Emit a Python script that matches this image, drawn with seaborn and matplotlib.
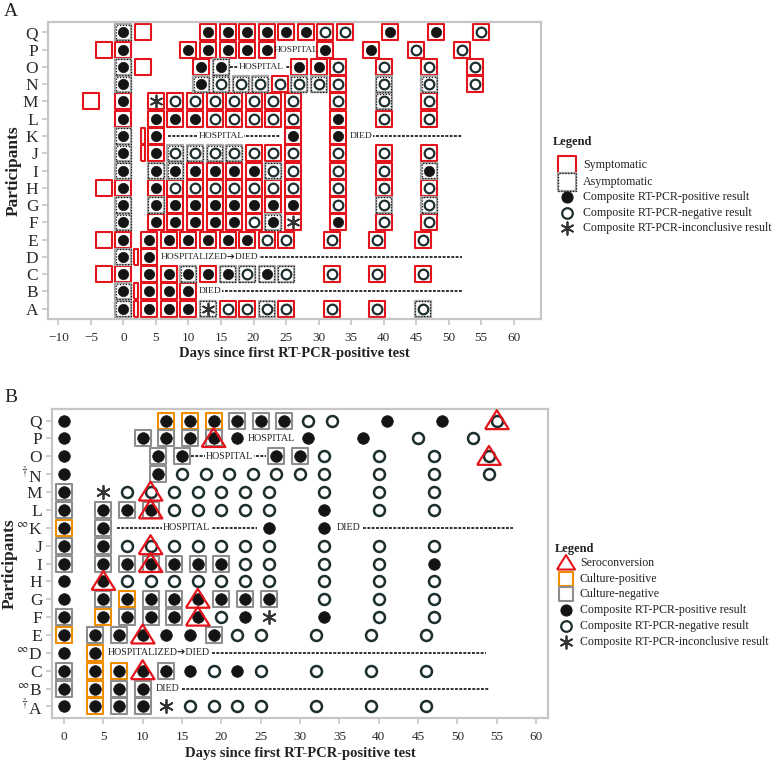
import numpy as np
import pandas as pd
import matplotlib
matplotlib.use("Agg")
import matplotlib.pyplot as plt
import seaborn as sns

# ---------------- data ----------------
participants = list("ABCDEFGHIJKLMNOPQ")

test_days = {
    "A": [0, 4, 7, 10, 13, 16, 19, 22, 25, 32, 39, 46],
    "B": [0, 4, 7, 10],
    "C": [0, 4, 7, 10, 13, 16, 19, 22, 25, 32, 39, 46],
    "D": [0, 4],
    "E": [0, 4, 7, 10, 13, 16, 19, 22, 25, 32, 39, 46],
    "F": [0, 5, 8, 11, 14, 17, 20, 23, 26, 33, 40, 47],
    "G": [0, 5, 8, 11, 14, 17, 20, 23, 26, 33, 40, 47],
    "H": [0, 5, 8, 11, 14, 17, 20, 23, 26, 33, 40, 47],
    "I": [0, 5, 8, 11, 14, 17, 20, 23, 26, 33, 40, 47],
    "J": [0, 5, 8, 11, 14, 17, 20, 23, 26, 33, 40, 47],
    "K": [0, 5, 26, 33],
    "L": [0, 5, 8, 11, 14, 17, 20, 23, 26, 33, 40, 47],
    "M": [0, 5, 8, 11, 14, 17, 20, 23, 26, 33, 40, 47],
    "N": [0, 12, 15, 18, 21, 24, 27, 30, 33, 40, 47, 54],
    "O": [0, 12, 15, 27, 30, 33, 40, 47, 54],
    "P": [0, 10, 13, 16, 19, 22, 31, 38, 45, 52],
    "Q": [0, 13, 16, 19, 22, 25, 28, 31, 34, 41, 48, 55],
}
# P = positive, N = negative, I = inconclusive
pcr_result = {
    "A": "PPPPINNNNNNN", "B": "PPPP", "C": "PPPPPPNPNNNN", "D": "PP",
    "E": "PPPPPPPNNNNN", "F": "PPPPPPNPIPNN", "G": "PPPPPPPPPNNN",
    "H": "PPNNNNNNNNNN", "I": "PPPPPPPNNNNP", "J": "PPNNNNNNNNNN",
    "K": "PPPP", "L": "PPPPNNNNNPNN", "M": "PINNNNNNNNNN",
    "N": "PPNNNNNNNNNN", "O": "PPPPPNNNN", "P": "PPPPPPPPNN",
    "Q": "PPPPPPPNNPPN",
}
# S = symptomatic, A = asymptomatic (panel A)
symptom_status = {
    "A": "ASSSASSASSSA", "B": "ASSS", "C": "SSSASAAAASSS", "D": "AS",
    "E": "SSSSSSSSSSSS", "F": "ASSSSSSASSSS", "G": "AASSSSSSSSAA",
    "H": "SSSSSSSSSSSS", "I": "AAASSSSASSSA", "J": "ASAAAASSSSSS",
    "K": "ASSS", "L": "SSSSSSSSSSSS", "M": "SSSSSSSSSSAS",
    "N": "AAAAASAASAAS", "O": "ASASSSSSS", "P": "SSSSSSSSSS",
    "Q": "ASSSSSSSSSSS",
}
# symptomatic days without a test
symptom_only_days = {"C": [-3], "E": [-3], "H": [-3], "M": [-5], "O": [3], "P": [-3], "Q": [3]}
symptom_onset_short = {"A": [2], "B": [2], "D": [2], "J": [3], "K": [3]}

# O = culture-positive, G = culture-negative, - = no culture (panel B)
culture = {
    "A": "-OGG--------", "B": "GOGG", "C": "GOO-G-------", "D": "-O",
    "E": "OGG---G-----", "F": "GOGGG-------", "G": "-GOGG-GGG---",
    "H": "------------", "I": "GGGGGGG-----", "J": "GG----------",
    "K": "OG--", "L": "GGGG--------", "M": "G-----------",
    "N": "-G----------", "O": "-GGGG----", "P": "-GGGG-----",
    "Q": "-OOOGGG-----",
}
seroconversion_day = {"C": 10, "E": 10, "F": 17, "G": 17, "H": 5, "I": 11,
                      "J": 11, "L": 11, "M": 11, "O": 54, "P": 19, "Q": 55}
label_marks_B = {"A": "\\dagger", "B": "\\infty", "D": "\\infty", "K": "\\infty", "N": "\\dagger"}

# clinical events: (participant, text, align, text_day, line_start, line_end)
events_A = [
    ("P", "HOSPITAL", "center", 26.5, None, None),
    ("O", "HOSPITAL", "center", 21.2, 16.4, 25.8),
    ("K", "HOSPITAL", "center", 15.0, 6.9, 24.0),
    ("K", "DIED", "left", 34.8, 34.8, 52.0),
    ("D", "HOSPITALIZED\u2794DIED", "left", 5.7, 5.7, 52.0),
    ("B", "DIED", "left", 11.6, 11.6, 52.0),
]
events_B = [
    ("P", "HOSPITAL", "center", 26.3, None, None),
    ("O", "HOSPITAL", "center", 21.0, 16.2, 25.7),
    ("K", "HOSPITAL", "center", 15.6, 6.7, 24.5),
    ("K", "DIED", "left", 34.7, 34.7, 57.0),
    ("D", "HOSPITALIZED\u2794DIED", "left", 5.6, 5.6, 53.6),
    ("B", "DIED", "left", 11.7, 11.7, 54.0),
]

# ---------------- tables ----------------
rows = []
for p in participants:
    d, r, s, c = test_days[p], pcr_result[p], symptom_status[p], culture[p]
    assert len(d) == len(r) == len(s) == len(c), p
    for di, ri, si, ci in zip(d, r, s, c):
        rows.append(dict(pid=p, y=participants.index(p), day=di, result=ri, sym=si, cult=ci))
tests = pd.DataFrame(rows)
sym_only = pd.DataFrame([dict(y=participants.index(p), day=d) for p, v in symptom_only_days.items() for d in v])
sym_short = pd.DataFrame([dict(y=participants.index(p), day=d) for p, v in symptom_onset_short.items() for d in v])
sero = pd.DataFrame([dict(y=participants.index(p), day=d) for p, d in seroconversion_day.items()])

# ---------------- style ----------------
sns.set_theme(style="white")
SERIF = ["Liberation Serif", "DejaVu Serif"]
plt.rcParams["font.family"] = SERIF
plt.rcParams["mathtext.fontset"] = "stix"

RED = "#e3141c"
ORANGE = "#f08c00"
GRAY = "#8e8e8e"
INK = "#141414"
OPEN_EDGE = "#1d2e2e"
SPINE = "#c6c6c6"

W, H = 782, 762
fig = plt.figure(figsize=(W / 100, H / 100), dpi=100)
axA = fig.add_axes([48 / W, 1 - 319 / H, (541 - 48) / W, (319 - 22) / H])
axB = fig.add_axes([52 / W, 1 - 718 / H, (548 - 52) / W, (718 - 409) / H])

narrow_rect = [(-0.28, -1), (0.28, -1), (0.28, 1), (-0.28, 1), (-0.28, -1)]
asterisk = (6, 2, 0)
tri = [(-1, -0.72), (1, -0.72), (0, 0.88), (-1, -0.72)]


def sc(ax, data, **kw):
    sns.scatterplot(data=data, x="day", y="y", ax=ax, legend=False, **kw)


def draw_circles(ax, df, s_fill, s_open, lw_open, s_ast):
    sc(ax, df[df.result == "P"], marker="o", s=s_fill, color=INK, edgecolor=INK, linewidth=0.5, zorder=5)
    sc(ax, df[df.result == "N"], marker="o", s=s_open, color=OPEN_EDGE, facecolor="white",
       edgecolor=OPEN_EDGE, linewidth=lw_open, zorder=5)
    sc(ax, df[df.result == "I"], marker=asterisk, s=s_ast, color="#333333", linewidth=1.3, zorder=5)


def draw_events(ax, events, fs):
    for p, txt, ha, xt, x0, x1 in events:
        yy = participants.index(p)
        box = None
        if x0 is not None:
            ax.plot([x0, x1], [yy, yy], color="#222222", lw=1.3, linestyle=(0, (1.6, 0.8)), zorder=3)
            box = dict(facecolor="white", edgecolor="none", pad=0.6)
        ax.text(xt, yy, txt, ha=ha, va="center", fontsize=fs, color="#222222",
                family=["Liberation Serif", "DejaVu Sans"], zorder=7, bbox=box)


def style_axes(ax, xlim, ylim, xticks, ylab_x, xlab_y):
    ax.set_xlim(*xlim)
    ax.set_ylim(*ylim)
    ax.set_xticks(xticks)
    ax.set_yticks(range(len(participants)))
    for sp in ax.spines.values():
        sp.set_color(SPINE)
        sp.set_linewidth(1.6)
    ax.tick_params(axis="both", which="both", direction="out", length=4, width=1.2,
                   color=SPINE, labelcolor="#2a2a2a", left=True, bottom=True)
    ax.tick_params(axis="x", labelsize=9.5, pad=5)
    ax.tick_params(axis="y", labelsize=12.5, pad=3)
    ax.set_xlabel("Days since first RT-PCR-positive test", fontsize=10.5, fontweight="bold",
                  color="#222222")
    ax.set_ylabel("Participants", fontsize=12.5, fontweight="bold", color="#222222")
    ax.yaxis.set_label_coords(ylab_x, 0.5)
    ax.xaxis.set_label_coords(0.5, xlab_y)


# ---------------- panel A ----------------
SBOX = 120
sc(axA, tests[tests.sym == "S"], marker="s", s=SBOX, color=RED, facecolor="white", edgecolor=RED,
   linewidth=1.5, zorder=2)
sc(axA, tests[tests.sym == "A"], marker="s", s=SBOX, color="#a8a8a8", facecolor="white",
   edgecolor="#a8a8a8", linewidth=1.6, zorder=2)
sc(axA, tests[tests.sym == "A"], marker="s", s=SBOX, color=INK, facecolor="none", edgecolor=INK,
   linewidth=0.9, linestyle=(0, (1, 1.3)), zorder=3)
sc(axA, sym_only, marker="s", s=SBOX, color=RED, facecolor="white", edgecolor=RED, linewidth=1.5, zorder=2)
sc(axA, sym_short, marker=narrow_rect, s=SBOX, color=RED, facecolor="white", edgecolor=RED,
   linewidth=1.5, zorder=2)
draw_circles(axA, tests, 55, 48, 1.6, 75)
draw_events(axA, events_A, 6.8)
style_axes(axA, (-11.6, 64.2), (-0.6, 16.6), range(-10, 61, 5),
           (22 - 48) / 493, (319 - 347) / 297)
axA.set_yticklabels(participants)

# ---------------- panel B ----------------
CBOX = 125
sc(axB, tests[tests.cult == "O"], marker="s", s=CBOX, color=ORANGE, facecolor="white",
   edgecolor=ORANGE, linewidth=1.5, zorder=2)
sc(axB, tests[tests.cult == "G"], marker="s", s=CBOX, color=GRAY, facecolor="white",
   edgecolor=GRAY, linewidth=1.5, zorder=2)
draw_circles(axB, tests, 70, 62, 1.8, 90)
sc(axB, sero, marker=tri, s=290, color=RED, facecolor="none", edgecolor=RED, linewidth=1.6, zorder=6)
draw_events(axB, events_B, 7.2)
style_axes(axB, (-1.52, 61.5), (-0.65, 16.65), range(0, 61, 5),
           (18 - 52) / 496, (718 - 747) / 309)
axB.set_yticklabels([(r"$^{%s}$" % label_marks_B[p] + p) if p in label_marks_B else p
                     for p in participants])

# panel letters
fig.text(4 / W, 1 - 12 / H, "A", fontsize=14, va="center", ha="left", color="#222222")
fig.text(4 / W, 1 - 398 / H, "B", fontsize=14, va="center", ha="left", color="#222222")

# ---------------- legends (drawn in a pixel-space overlay) ----------------
axL = fig.add_axes([0, 0, 1, 1], facecolor="none")
axL.set_xlim(0, W)
axL.set_ylim(H, 0)
axL.axis("off")


def leg_text(x, y, t, bold=False):
    axL.text(x, y, t, fontsize=9 if bold else 8.6, fontweight="bold" if bold else "normal",
             va="center", ha="left", color="#222222")


legA_labels = ["Symptomatic", "Asymptomatic", "Composite RT-PCR-positive result",
               "Composite RT-PCR-negative result", "Composite RT-PCR-inconclusive result"]
legA_y = [165, 182, 197, 213, 228]
leg_text(553, 142, "Legend", bold=True)
axL.scatter([567], [legA_y[0]], marker="s", s=175, facecolor="white", edgecolor=RED, linewidth=1.5)
axL.scatter([567], [legA_y[1]], marker="s", s=175, facecolor="white", edgecolor="#a8a8a8", linewidth=1.6)
axL.scatter([567], [legA_y[1]], marker="s", s=175, facecolor="none", edgecolor=INK, linewidth=0.9,
            linestyle=(0, (1, 1.3)))
axL.scatter([567], [legA_y[2]], marker="o", s=60, color=INK)
axL.scatter([567], [legA_y[3]], marker="o", s=58, facecolor="white", edgecolor=OPEN_EDGE, linewidth=1.6)
axL.scatter([567], [legA_y[4]], marker=asterisk, s=80, color="#333333", linewidth=1.3)
for yy, t in zip(legA_y, legA_labels):
    leg_text(583, yy, t)

legB_labels = ["Seroconversion", "Culture-positive", "Culture-negative",
               "Composite RT-PCR-positive result", "Composite RT-PCR-negative result",
               "Composite RT-PCR-inconclusive result"]
legB_y = [563, 579, 594, 610, 626, 642]
leg_text(555, 549, "Legend", bold=True)
axL.scatter([566], [legB_y[0]], marker=tri, s=170, facecolor="none", edgecolor=RED, linewidth=1.5)
axL.scatter([566], [legB_y[1]], marker="s", s=95, facecolor="white", edgecolor=ORANGE, linewidth=1.5)
axL.scatter([566], [legB_y[2]], marker="s", s=95, facecolor="white", edgecolor=GRAY, linewidth=1.5)
axL.scatter([566], [legB_y[3]], marker="o", s=60, color=INK)
axL.scatter([566], [legB_y[4]], marker="o", s=58, facecolor="white", edgecolor=OPEN_EDGE, linewidth=1.6)
axL.scatter([566], [legB_y[5]], marker=asterisk, s=80, color="#333333", linewidth=1.3)
for yy, t in zip(legB_y, legB_labels):
    leg_text(580, yy, t)

fig.savefig("out.png", dpi=100, facecolor="white")
